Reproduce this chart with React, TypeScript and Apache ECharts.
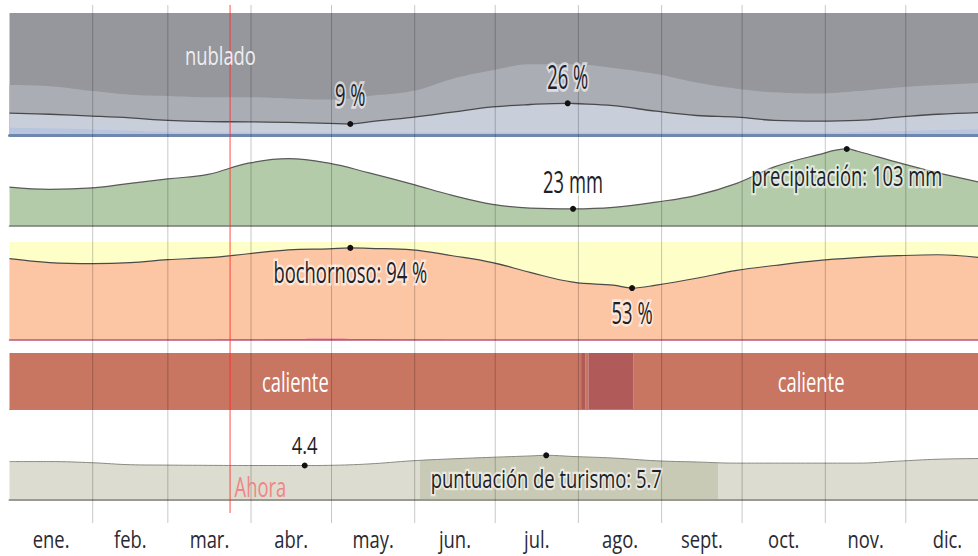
import React, { useEffect, useRef } from "react";
import * as echarts from "echarts";

// ---------- data ----------
const monthNames = ["ene.", "feb.", "mar.", "abr.", "may.", "jun.", "jul.", "ago.", "sept.", "oct.", "nov.", "dic."];
const monthStartDays = [0, 31, 59, 90, 120, 151, 181, 212, 243, 273, 304, 334, 365];

const sampleDays = [0, 15, 31, 45, 59, 74, 89, 104, 119, 134, 150, 165, 180, 194, 210, 225, 241, 256, 271, 285, 301, 316, 331, 346, 365];

// cloud cover bands (% of time, cumulative from the bottom)
const clearestPct = [6, 5.5, 4.5, 3.5, 2.5, 2, 2, 2, 2, 2, 2, 2, 2, 2, 2, 2, 2, 2, 2, 2, 2, 2.5, 3, 4, 5];
const mostlyClearPct = [18, 17, 15.5, 14, 12, 11, 10.8, 10.3, 9.5, 10.8, 14.4, 18.7, 23, 25, 25.8, 24, 19.5, 16, 14.6, 12, 11.4, 12, 14.6, 17, 18.7];
const partlyCloudyPct = [41, 40, 36, 33, 32, 31, 31, 30, 29, 32, 36, 46, 53, 58, 58, 55, 50, 43, 38, 35, 34, 36, 39, 41, 43];
const clearMarks: [number, number][] = [[127, 9], [208, 26]];

// precipitation (mm)
const precipMm = [52, 49, 51, 57, 63, 69, 84, 90, 84, 71, 56, 41, 29, 24, 23, 25, 32, 41, 57, 79, 95, 100, 85, 71, 56];
const precipMarks: [number, number][] = [[210, 23], [312, 103]];

// humidity (% of time muggy)
const humidPct = [83, 79, 78, 79, 82, 84, 88, 92, 93, 93.5, 92, 86, 79, 69, 59, 56, 56, 63, 71, 76, 81, 84, 86, 87, 83];
const oppressivePct = [0, 0, 0, 0, 0, 0, 0.4, 1, 1.4, 1, 0.4, 0, 0, 0, 0, 0, 0, 0, 0, 0, 0, 0, 0, 0, 0];
const humidMarks: [number, number][] = [[127, 94], [232, 53]];

// temperature bands
const tempBandStart = [0, 213, 214.5, 215.7, 232.4];
const tempBandEnd = [213, 214.5, 215.7, 232.4, 365];
const tempBandKind = [0, 1, 0, 1, 0];
const tempKindNames = ["caliente", "muy caliente"];

// tourism score
const tourismScore = [4.9, 4.9, 4.75, 4.5, 4.45, 4.42, 4.4, 4.4, 4.42, 4.6, 5.0, 5.25, 5.45, 5.62, 5.55, 5.35, 5.0, 4.85, 4.7, 4.7, 4.7, 4.7, 4.95, 5.2, 5.3];
const tourismMarks: [number, number][] = [[110, 4.4], [200, 5.7]];
const bestTimeStart = 153;
const bestTimeEnd = 264;

const nowDay = 82.2;

// ---------- helpers ----------
const FONT = '"Open Sans", "DejaVu Sans Condensed", sans-serif';
const SX = 0.8;
const DY = -3;

function points(values: number[], marks: [number, number][] = []) {
  const pts: number[][] = sampleDays.map((d, i) => [d, values[i]]);
  marks.forEach((m) => {
    if (!sampleDays.includes(m[0])) pts.push([m[0], m[1]]);
    else pts[sampleDays.indexOf(m[0])][1] = m[1];
  });
  return pts.sort((a, b) => a[0] - b[0]);
}

function area(grid: number, data: number[][], fill: string | null, line?: string, lw?: number, marks?: [number, number][]) {
  const s: any = {
    type: "line",
    xAxisIndex: grid,
    yAxisIndex: grid,
    data,
    smooth: 0.4,
    symbol: "none",
    showSymbol: false,
    silent: true,
    lineStyle: line ? { color: line, width: lw } : { width: 0, opacity: 0 },
    areaStyle: fill ? { color: fill, opacity: 1 } : { opacity: 1 },
  };
  if (marks) {
    s.markPoint = {
      symbol: "circle",
      symbolSize: 6,
      silent: true,
      itemStyle: { color: "#111" },
      label: { show: false },
      data: marks.map((m) => ({ coord: m })),
    };
  }
  return s;
}

const L = 9.5;
const W = 979.5;
const gridDefs = [
  { top: 13, height: 122, bg: "#95979c" }, // cloud
  { top: 140, height: 86, bg: null }, // precip
  { top: 242, height: 98, bg: "#fefec9" }, // humidity
  { top: 353, height: 56, bg: null }, // temperature
  { top: 421.6, height: 78.4, bg: null }, // tourism
  { top: 5, height: 518, bg: null }, // overlay
];
const yRanges = [
  [0, 100],
  [0, 115],
  [0, 100],
  [0, 1],
  [0, 10],
  [0, 518],
];
const axisLines: (null | [string, number])[] = [
  ["#6f87ad", 3],
  ["#7a7a7a", 1.5],
  ["#b8587a", 1.5],
  ["#9a8a86", 1],
  ["#9a9a94", 2],
  null,
];

function buildOption() {
  return {
    animation: false,
    backgroundColor: "#ffffff",
    grid: gridDefs.map((g) => ({
      left: L,
      width: W,
      top: g.top,
      height: g.height,
      show: !!g.bg,
      backgroundColor: g.bg || "transparent",
      borderWidth: 0,
    })),
    xAxis: gridDefs.map((g, i) => ({
      type: "value",
      gridIndex: i,
      min: 0,
      max: 365,
      z: 3,
      axisLabel: { show: false },
      axisTick: { show: false },
      splitLine: { show: false },
      axisLine: axisLines[i]
        ? { show: true, onZero: false, lineStyle: { color: axisLines[i]![0], width: axisLines[i]![1] } }
        : { show: false },
    })),
    yAxis: gridDefs.map((g, i) => ({
      type: "value",
      gridIndex: i,
      min: yRanges[i][0],
      max: yRanges[i][1],
      inverse: i === 5,
      show: false,
      splitLine: { show: false },
    })),
    visualMap: [
      {
        type: "piecewise",
        show: false,
        seriesIndex: 7,
        dimension: 0,
        pieces: [
          { lt: bestTimeStart, color: "#dcdcd0" },
          { gte: bestTimeStart, lte: bestTimeEnd, color: "#c9cab5" },
          { gt: bestTimeEnd, color: "#dcdcd0" },
        ],
      },
    ],
    series: [
      area(0, points(partlyCloudyPct), "#abadb4"),
      area(0, points(mostlyClearPct, clearMarks), "#c9cedb", "#4a4a4a", 1.3, clearMarks),
      area(0, points(clearestPct), "#b7c6de"),
      area(1, points(precipMm, precipMarks), "#b4cba9", "#5a5a5a", 1.2, precipMarks),
      area(2, points(humidPct, humidMarks), "#fcc5a3", "#4a4a4a", 1.2, humidMarks),
      area(2, points(oppressivePct), "#d8509a"),
      {
        type: "custom",
        xAxisIndex: 3,
        yAxisIndex: 3,
        silent: true,
        data: tempBandStart.map((s, i) => [s, 0, tempBandEnd[i], tempBandKind[i]]),
        renderItem: (params: any, api: any) => {
          const a = api.coord([api.value(0), 1]);
          const b = api.coord([api.value(2), 0]);
          const kind = api.value(3);
          return {
            type: "rect",
            shape: { x: a[0], y: a[1], width: b[0] - a[0], height: b[1] - a[1] },
            style: { fill: kind === 1 ? "#b05a59" : "#c87561" },
          };
        },
      },
      area(4, points(tourismScore, tourismMarks), null, "#8a8a80", 1, tourismMarks),
      {
        type: "custom",
        xAxisIndex: 5,
        yAxisIndex: 5,
        silent: true,
        z: 10,
        data: monthStartDays.slice(1, 12).map((d) => [d, 0]),
        renderItem: (params: any, api: any) => {
          const a = api.coord([api.value(0), 0]);
          const b = api.coord([api.value(0), 518]);
          return {
            type: "line",
            shape: { x1: a[0], y1: a[1], x2: b[0], y2: b[1] },
            style: { stroke: "rgba(0,0,0,0.22)", lineWidth: 1 },
          };
        },
      },
      {
        type: "custom",
        xAxisIndex: 5,
        yAxisIndex: 5,
        silent: true,
        z: 11,
        data: [[nowDay, 0]],
        renderItem: (params: any, api: any) => {
          const a = api.coord([api.value(0), 0]);
          const b = api.coord([api.value(0), 508]);
          return {
            type: "line",
            shape: { x1: a[0], y1: a[1], x2: b[0], y2: b[1] },
            style: { stroke: "rgba(255,40,40,0.55)", lineWidth: 1.5 },
          };
        },
      },
    ],
  };
}

type LabelSpec = {
  text: string;
  grid: number;
  x: number;
  y: number;
  dy: number;
  sy: number;
  color?: string;
  halo?: boolean;
  align?: string;
  dx?: number;
};

function buildLabels(chart: any) {
  const specs: LabelSpec[] = [
    { text: "nublado", grid: 0, x: 78.6, y: 63.4, dy: 0, sy: 1.1, color: "#eeeef0" },
    { text: `${clearMarks[0][1]} %`, grid: 0, x: clearMarks[0][0], y: clearMarks[0][1], dy: -27, sy: 1.35, halo: true },
    { text: `${clearMarks[1][1]} %`, grid: 0, x: clearMarks[1][0], y: clearMarks[1][1], dy: -24, sy: 1.4, halo: true },
    { text: `${precipMarks[0][1]} mm`, grid: 1, x: precipMarks[0][0], y: precipMarks[0][1], dy: -25, sy: 1.35, halo: true },
    { text: `precipitación: ${precipMarks[1][1]} mm`, grid: 1, x: precipMarks[1][0], y: precipMarks[1][1], dy: 30, sy: 1.15, halo: true },
    { text: `bochornoso: ${humidMarks[0][1]} %`, grid: 2, x: humidMarks[0][0], y: humidMarks[0][1], dy: 26, sy: 1.3, halo: true },
    { text: `${humidMarks[1][1]} %`, grid: 2, x: humidMarks[1][0], y: humidMarks[1][1], dy: 27, sy: 1.35, halo: true },
    { text: `${tourismMarks[0][1].toFixed(1)}`, grid: 4, x: tourismMarks[0][0], y: tourismMarks[0][1], dy: -18, sy: 1.05, halo: true },
    { text: `puntuación de turismo: ${tourismMarks[1][1].toFixed(1)}`, grid: 4, x: tourismMarks[1][0], y: tourismMarks[1][1], dy: 25, sy: 1.1, halo: true },
    { text: "Ahora", grid: 4, x: nowDay, y: 1.65, dy: 2, sy: 1.2, color: "#f08585", align: "left", dx: 4.5 },
  ];
  tempBandStart.forEach((s, i) => {
    if (tempBandKind[i] === 0 && tempBandEnd[i] - s > 50) {
      specs.push({ text: tempKindNames[0], grid: 3, x: (s + tempBandEnd[i]) / 2, y: 0.5, dy: 3, sy: 1.17, color: "#ffffff" });
    }
  });
  monthNames.forEach((m, i) => {
    const mid = (monthStartDays[i] + monthStartDays[i + 1]) / 2;
    specs.push({ text: m, grid: 5, x: mid, y: 518, dy: 18, sy: 1.05, color: "#2a2a33" });
  });

  const out: any[] = [];
  specs.forEach((s) => {
    const p = chart.convertToPixel({ gridIndex: s.grid }, [s.x, s.y]);
    if (!p) return;
    out.push({
      type: "text",
      x: p[0] + (s.dx || 0),
      y: p[1] + s.dy + DY,
      scaleX: SX,
      scaleY: s.sy,
      z: 100,
      silent: true,
      style: {
        text: s.text,
        font: `23px ${FONT}`,
        fill: s.color || "#1e1e28",
        align: s.align || "center",
        verticalAlign: "middle",
        ...(s.halo ? { stroke: "rgba(255,255,255,0.6)", lineWidth: 4, strokeFirst: true } : {}),
      },
    });
  });
  return out;
}

export default function App() {
  const ref = useRef<HTMLDivElement>(null);
  useEffect(() => {
    const el = ref.current;
    if (!el) return;
    const chart = echarts.init(el, null, { renderer: "svg" });
    chart.setOption(buildOption() as any);
    chart.setOption({ graphic: buildLabels(chart) } as any);
    return () => chart.dispose();
  }, []);
  return (
    <div style={{ position: "fixed", left: 0, top: 0, width: 978, height: 556, overflow: "hidden", background: "#ffffff" }}>
      <div ref={ref} style={{ width: 1000, height: 556 }} />
    </div>
  );
}
